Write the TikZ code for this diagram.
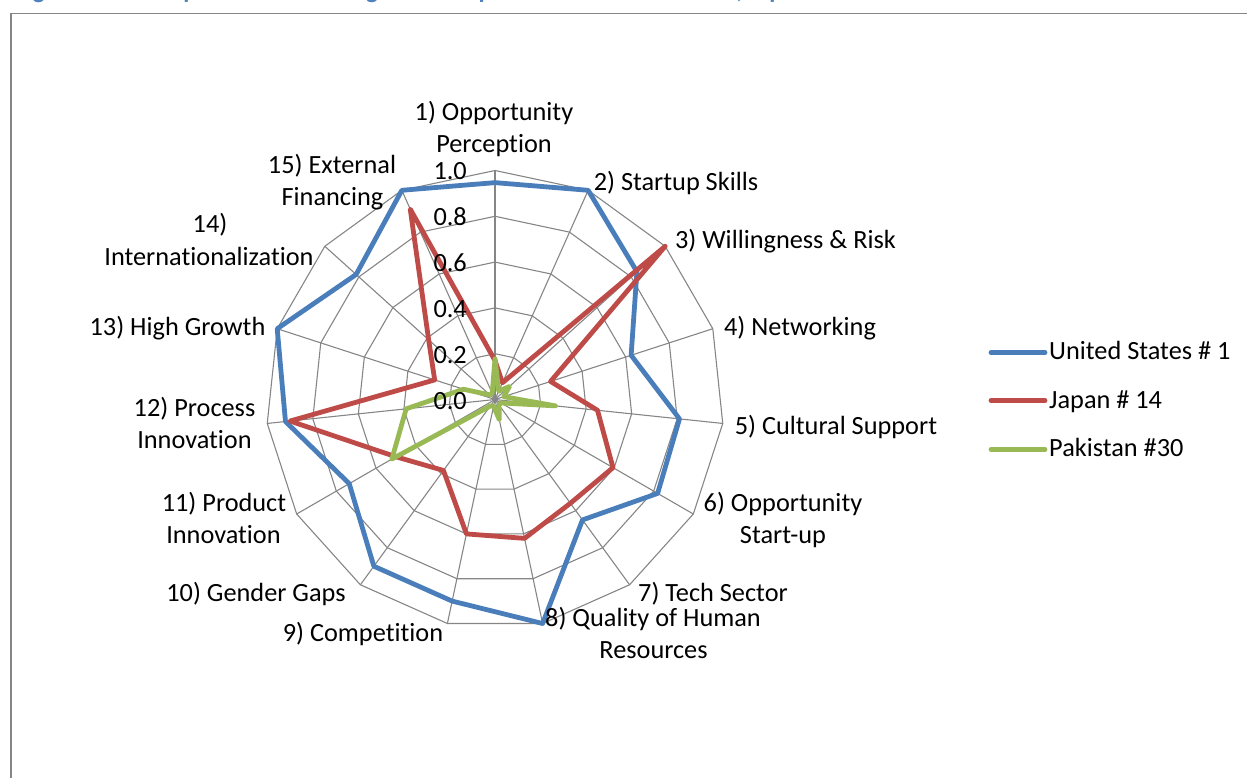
\documentclass[tikz,border=0pt]{standalone}
\usepackage{fontspec}
\setmainfont{Carlito}[Ligatures={NoCommon,TeX}]
\definecolor{gridgray}{RGB}{134,134,134}
\definecolor{usblue}{RGB}{74,126,187}
\definecolor{jpred}{RGB}{190,75,72}
\definecolor{pkgreen}{RGB}{152,185,84}
\definecolor{titleblue}{RGB}{79,129,189}
\begin{document}
\begin{tikzpicture}[x=1pt,y=-1pt,
  gridline/.style={draw=gridgray,line width=1.1pt},
  framebox/.style={draw=gridgray,line width=1.4pt},
  seriesline/.style={line width=4.8pt,line join=round,line cap=round},
  lbl/.style={font=\fontsize{26.3}{32}\selectfont,inner sep=0pt,anchor=base},
  vallbl/.style={font=\fontsize{26.3}{32}\selectfont,inner sep=0pt,anchor=base east},
  leglbl/.style={font=\fontsize{26.3}{32}\selectfont,inner sep=0pt,anchor=base west},
  titletext/.style={font=\fontsize{25}{30}\selectfont\bfseries,text=titleblue,inner sep=0pt,anchor=base west}]
\useasboundingbox (0,0) rectangle (1247,778);
\begin{scope}
  \clip (0,0) rectangle (1247,778);
  \node[titletext] (title) at (15,-1.5) {Figure 11: Pillar performance categories compared: The United States, Japan and Pakistan};
  \draw[framebox] (1260,13.5) -- (11,13.5) -- (11,790);
\end{scope}
% centre
\coordinate (O) at (495,399.5);
% rings
\foreach \r in {1,...,5} {
  \draw[gridline] ({495},{399.5-45.8*\r})
    \foreach \k in {1,...,14} { -- ({495+45.8*\r*sin(24*\k)},{399.5-45.8*\r*cos(24*\k)}) } -- cycle;
}
% spokes
\foreach \k in {0,...,14} {
  \coordinate (ax\k) at ({495+229*sin(24*\k)},{399.5-229*cos(24*\k)});
  \draw[gridline] (O) -- (ax\k);
}
% data points
\foreach[count=\i from 0] \v in {0.947,1.0,0.834,0.625,0.81,0.82,0.65,1.0,0.90,0.90,0.735,0.92,1.0,0.816,1.0}
  \coordinate (us\i) at ({495+229*\v*sin(24*\i)},{399.5-229*\v*cos(24*\i)});
\foreach[count=\i from 0] \v in {0.17,0.08,1.0,0.255,0.45,0.595,0.56,0.62,0.60,0.383,0.5,0.90,0.277,0.39,0.91}
  \coordinate (jp\i) at ({495+229*\v*sin(24*\i)},{399.5-229*\v*cos(24*\i)});
\foreach[count=\i from 0] \v in {0.178,0.04,0.085,0.04,0.265,0.03,0.03,0.09,0.03,0.035,0.52,0.39,0.145,0.03,0.03}
  \coordinate (pk\i) at ({495+229*\v*sin(24*\i)},{399.5-229*\v*cos(24*\i)});
\draw[seriesline,usblue] (us0) \foreach \i in {1,...,14} { -- (us\i) } -- cycle;
\draw[seriesline,jpred] (jp0) \foreach \i in {1,...,14} { -- (jp\i) } -- cycle;
\draw[seriesline,pkgreen] (pk0) \foreach \i in {1,...,14} { -- (pk\i) } -- cycle;
% value labels
\node[vallbl] (v10) at (467,180) {1.0};
\node[vallbl] (v08) at (467,225.9) {0.8};
\node[vallbl] (v06) at (467,271.7) {0.6};
\node[vallbl] (v04) at (467,317.6) {0.4};
\node[vallbl] (v02) at (467,363.5) {0.2};
\node[vallbl] (v00) at (467,409.4) {0.0};
% axis labels
\node[lbl] (l1a) at (494,120.7) {1) Opportunity};
\node[lbl] (l1b) at (494,152.5) {Perception};
\node[lbl] (l2) at (676,190.7) {2) Startup Skills};
\node[lbl] (l3) at (785.5,248.3) {3) Willingness \& Risk};
\node[lbl] (l4) at (800,335) {4) Networking};
\node[lbl] (l5) at (836,434) {5) Cultural Support};
\node[lbl] (l6a) at (783,511.7) {6) Opportunity};
\node[lbl] (l6b) at (783,543.3) {Start-up};
\node[lbl] (l7) at (713,601.7) {7) Tech Sector};
\node[lbl] (l8a) at (653,626.7) {8) Quality of Human};
\node[lbl] (l8b) at (653.5,658.5) {Resources};
\node[lbl] (l9) at (363,641.7) {9) Competition};
\node[lbl] (l10) at (256,601.7) {10) Gender Gaps};
\node[lbl] (l11a) at (224,511.7) {11) Product};
\node[lbl] (l11b) at (223.5,543.3) {Innovation};
\node[lbl] (l12a) at (194.5,416.7) {12) Process};
\node[lbl] (l12b) at (194.5,448.3) {Innovation};
\node[lbl] (l13) at (177.5,335) {13) High Growth};
\node[lbl] (l14a) at (210,232.7) {14)};
\node[lbl] (l14b) at (209,265) {Internationalization};
\node[lbl] (l15a) at (332,174) {15) External};
\node[lbl] (l15b) at (332.5,205.7) {Financing};
% legend
\coordinate (lgus1) at (991,352.7); \coordinate (lgus2) at (1045,352.7);
\coordinate (lgjp1) at (991,400.7); \coordinate (lgjp2) at (1045,400.7);
\coordinate (lgpk1) at (991,449.3); \coordinate (lgpk2) at (1045,449.3);
\draw[seriesline,usblue] (lgus1) -- (lgus2);
\draw[seriesline,jpred] (lgjp1) -- (lgjp2);
\draw[seriesline,pkgreen] (lgpk1) -- (lgpk2);
\node[leglbl] (tus) at (1049,359.3) {United States \# 1};
\node[leglbl] (tjp) at (1049,408.3) {Japan \# 14};
\node[leglbl] (tpk) at (1049,456.7) {Pakistan \#30};
\end{tikzpicture}
\end{document}
